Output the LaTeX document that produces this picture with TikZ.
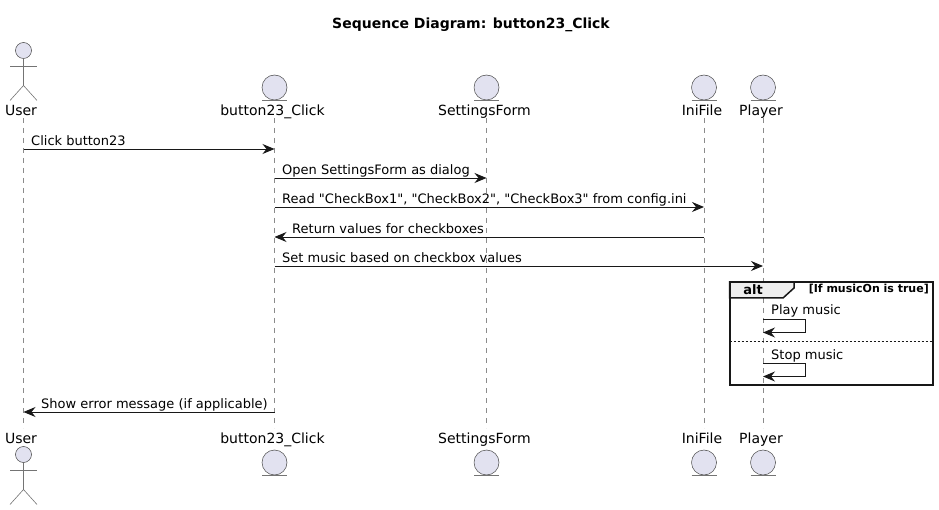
\documentclass[tikz,border=0pt]{standalone}
\usepackage{fontspec}
\setmainfont{DejaVu Sans}[Ligatures=TeXOff]
\usetikzlibrary{arrows.meta}
\definecolor{partfill}{HTML}{E2E2F0}
\definecolor{partline}{HTML}{181818}
\definecolor{tabfill}{HTML}{EEEEEE}
\tikzstyle{entity}=[circle,draw=partline!80,fill=partfill,line width=0.5pt,inner sep=0pt,outer sep=0pt,minimum width=25pt]
\tikzstyle{head}=[circle,draw=partline!80,fill=partfill,line width=0.5pt,inner sep=0pt,outer sep=0pt,minimum width=16pt]
\tikzstyle{limb}=[draw=partline!60,line width=0.6pt]
\tikzstyle{partname}=[inner sep=0pt,anchor=base,font=\fontsize{14}{16}\selectfont]
\tikzstyle{lifeline}=[draw=partline!50,line width=0.6pt,dash pattern=on 5pt off 5pt]
\tikzstyle{msg}=[draw=partline,line width=0.9pt,-{Stealth[length=12pt,width=10pt,inset=4pt]}]
\tikzstyle{msgtext}=[inner sep=0pt,anchor=base west,font=\fontsize{13}{15}\selectfont]
\begin{document}
\begin{tikzpicture}[x=1pt,y=-1pt]
    \useasboundingbox (0,0) rectangle (939,510);
    \node[inner sep=0pt,anchor=base,font=\bfseries\fontsize{14}{16}\selectfont] (title) at (471,28.5) {Sequence Diagram: button23\_Click};
    % participants, top and bottom
    \foreach \name/\x/\label in {Btn/272.5/button23\_Click,Form/484.5/SettingsForm,Ini/702/IniFile,Player/761/Player}{
        \node[partname] (\name T) at (\x,115.5) {\label};
        \node[partname] (\name B) at (\x,443) {\label};
    }
    \foreach \name/\x in {Btn/274.5,Form/486.5,Ini/704,Player/763}{
        \node[entity] (\name TE) at (\x,87.5) {};
        \node[entity] (\name BE) at (\x,462.5) {};
        \draw[limb] (\name TE.south) ++ (-12.5,0.5) -- ++ (25,0);
        \draw[limb] (\name BE.south) ++ (-12.5,0.5) -- ++ (25,0);
        \coordinate (\name L1) at (\x,118);
        \coordinate (\name L2) at (\x,428);
        \draw[lifeline] (\name L1) -- (\name L2);
    }
    \node[partname] (UserT) at (21,115.5) {User};
    \node[partname] (UserB) at (21,443) {User};
    \coordinate (UserL1) at (23.5,118);
    \coordinate (UserL2) at (23.5,428);
    \draw[lifeline] (UserL1) -- (UserL2);
    % actors
    \foreach \tag/\y in {T/50.5,B/454.5}{
        \node[head] (UserH\tag) at (23.5,\y) {};
        \draw[limb] (UserH\tag.south) -- ++ (0,27) coordinate (hip\tag) -- ++ (-13.5,15) (hip\tag) -- ++ (13.5,15);
        \draw[limb] (UserH\tag.south) ++ (-13.5,7.5) -- ++ (27,0);
    }
    % messages
    \coordinate (m1a) at (23.5,149);   \coordinate (m1b) at (274.5,149);
    \coordinate (m2a) at (274.5,178);  \coordinate (m2b) at (486.5,178);
    \coordinate (m3a) at (274.5,207);  \coordinate (m3b) at (704,207);
    \coordinate (m4a) at (704,237);    \coordinate (m4b) at (274.5,237);
    \coordinate (m5a) at (274.5,266);  \coordinate (m5b) at (763,266);
    \coordinate (m8a) at (274.5,412);  \coordinate (m8b) at (23.5,412);
    \draw[msg] (m1a) -- (m1b);
    \draw[msg] (m2a) -- (m2b);
    \draw[msg] (m3a) -- (m3b);
    \draw[msg] (m4a) -- (m4b);
    \draw[msg] (m5a) -- (m5b);
    \draw[msg] (m8a) -- (m8b);
    \node[msgtext] (t1) at (31,145.5) {Click button23};
    \node[msgtext] (t2) at (282,174.5) {Open SettingsForm as dialog};
    \node[msgtext] (t3) at (282,203.5) {Read "CheckBox1", "CheckBox2", "CheckBox3" from config.ini};
    \node[msgtext] (t4) at (292,233.5) {Return values for checkboxes};
    \node[msgtext] (t5) at (282,262.5) {Set music based on checkbox values};
    \node[msgtext] (t8) at (41,408.5) {Show error message (if applicable)};
    % alt frame
    \coordinate (altA) at (729.5,282);
    \coordinate (altB) at (933,384.5);
    \draw[partline,fill=tabfill,line width=1.5pt] (altA) -- (794,282) -- (794,288) -- (783,298) -- (729.5,298) -- cycle;
    \draw[partline,line width=2pt] (altA) rectangle (altB);
    \node[inner sep=0pt,anchor=base,font=\bfseries\fontsize{13}{15}\selectfont] (altlabel) at (753,294.5) {alt};
    \node[inner sep=0pt,anchor=base east,font=\bfseries\fontsize{11}{13}\selectfont] (altguard) at (929,293) {[If musicOn is true]};
    \coordinate (divA) at (729.5,341);
    \coordinate (divB) at (933,341);
    \draw[partline,line width=0.9pt,dash pattern=on 2pt off 2pt] (divA) -- (divB);
    % self messages
    \coordinate (m6a) at (763,319.5);  \coordinate (m6b) at (763,332.5);
    \coordinate (m7a) at (763,363.5);  \coordinate (m7b) at (763,376.5);
    \draw[msg] (m6a) -- ++ (42.5,0) |- (m6b);
    \draw[msg] (m7a) -- ++ (42.5,0) |- (m7b);
    \node[msgtext] (t6) at (771,315) {Play music};
    \node[msgtext] (t7) at (771,359.5) {Stop music};
\end{tikzpicture}
\end{document}
